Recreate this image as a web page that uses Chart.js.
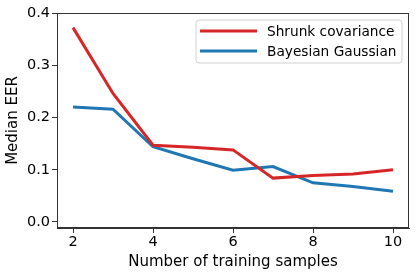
<!DOCTYPE html>
<html><head><meta charset="utf-8">
<script src="https://cdn.jsdelivr.net/npm/chart.js@4"></script>
<style>html,body{margin:0;padding:0;background:#fff}#c{display:block}</style>
</head><body>
<canvas id="c" width="416" height="276"></canvas>
<script>
const samples = [2, 3, 4, 5, 6, 7, 8, 9, 10];
const shrunkCovariance = [0.372, 0.246, 0.147, 0.143, 0.138, 0.084, 0.089, 0.092, 0.100];
const bayesianGaussian = [0.220, 0.216, 0.144, 0.121, 0.099, 0.106, 0.075, 0.068, 0.059];
const xTicks = [2, 4, 6, 8, 10];
const yTicks = [0.0, 0.1, 0.2, 0.3, 0.4];
const seriesLabels = ['Shrunk covariance', 'Bayesian Gaussian'];
const xTitle = 'Number of training samples';
const yTitle = 'Median EER';

const FONT = "'DejaVu Sans', sans-serif";
const RED = '#d62728', BLUE = '#1f77b4';

const toPts = (ys) => samples.map((x, i) => ({x, y: ys[i]}));

const frameAndLegend = {
  id: 'frameAndLegend',
  afterDraw(chart) {
    const ctx = chart.ctx, a = chart.chartArea;
    ctx.save();
    ctx.strokeStyle = '#333';
    ctx.lineWidth = 1;
    ctx.strokeRect(Math.round(a.left) + 0.5, Math.round(a.top) + 0.5,
                   Math.round(a.right - a.left) - 1, Math.round(a.bottom - a.top) - 1);
    // legend
    const lx = 196, ly = 20, lw = 206, lh = 43, r = 3;
    ctx.beginPath();
    ctx.moveTo(lx + r, ly);
    ctx.arcTo(lx + lw, ly, lx + lw, ly + lh, r);
    ctx.arcTo(lx + lw, ly + lh, lx, ly + lh, r);
    ctx.arcTo(lx, ly + lh, lx, ly, r);
    ctx.arcTo(lx, ly, lx + lw, ly, r);
    ctx.closePath();
    ctx.fillStyle = 'rgba(255,255,255,0.8)';
    ctx.fill();
    ctx.strokeStyle = '#d0d0d0';
    ctx.stroke();
    ctx.font = '13.7px ' + FONT;
    ctx.textBaseline = 'middle';
    ctx.fillStyle = '#000';
    chart.data.datasets.forEach((ds, i) => {
      const yy = 31 + i * 20;
      ctx.strokeStyle = ds.borderColor;
      ctx.lineWidth = 3;
      ctx.beginPath();
      ctx.moveTo(200, yy);
      ctx.lineTo(257, yy);
      ctx.stroke();
      ctx.fillText(ds.label, 267, yy + 1);
    });
    ctx.restore();
  }
};

new Chart(document.getElementById('c'), {
  type: 'line',
  data: {
    datasets: [
      {label: seriesLabels[0], data: toPts(shrunkCovariance), borderColor: RED, borderWidth: 3, pointRadius: 0, fill: false, tension: 0},
      {label: seriesLabels[1], data: toPts(bayesianGaussian), borderColor: BLUE, borderWidth: 3, pointRadius: 0, fill: false, tension: 0}
    ]
  },
  options: {
    responsive: false,
    animation: false,
    layout: {padding: {top: 13, right: 7, left: 0, bottom: 0}},
    plugins: {legend: {display: false}, tooltip: {enabled: false}},
    scales: {
      x: {
        type: 'linear', min: 1.6, max: 10.4,
        afterBuildTicks: (s) => { s.ticks = xTicks.map(v => ({value: v})); },
        afterFit: (s) => { s.height = 48; },
        grid: {display: true, drawOnChartArea: false, tickLength: 5, tickColor: '#333'},
        border: {display: true, color: '#333', width: 1},
        ticks: {color: '#000', font: {family: FONT, size: 14.5}, padding: 1, maxRotation: 0},
        title: {display: true, text: xTitle, color: '#000', font: {family: FONT, size: 15}, padding: {top: 0, bottom: 5}}
      },
      y: {
        type: 'linear', min: -0.0115, max: 0.4,
        afterBuildTicks: (s) => { s.ticks = yTicks.map(v => ({value: v})); },
        afterFit: (s) => { s.width = 57; },
        grid: {display: true, drawOnChartArea: false, tickLength: 5, tickColor: '#333'},
        border: {display: true, color: '#333', width: 1},
        ticks: {color: '#000', font: {family: FONT, size: 14.5}, padding: 2, callback: (v) => v.toFixed(1)},
        title: {display: true, text: yTitle, color: '#000', font: {family: FONT, size: 15}, padding: {top: 4.5, bottom: 0}}
      }
    }
  },
  plugins: [frameAndLegend]
});
</script>
</body></html>
